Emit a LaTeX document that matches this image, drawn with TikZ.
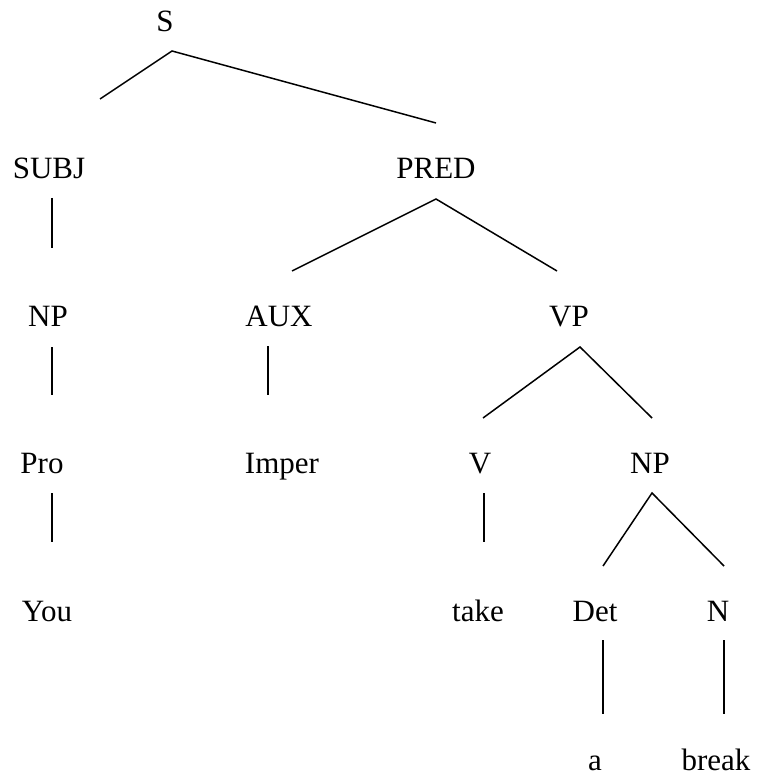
\documentclass[tikz,border=0pt]{standalone}
\usepackage{fontspec}
\setmainfont{Liberation Serif}
\usepackage{tikz}

\begin{document}
\begin{tikzpicture}[x=0.5pt, y=-0.5pt, line width=0.75pt,
    every node/.style={font=\fontsize{15.5}{18}\selectfont, anchor=base, inner sep=0pt}]
        \useasboundingbox (0,0) rectangle (757,774);

        % Sentence
        \node (S) at (165,32) {S};
        \node (SUBJ) at (49,179) {SUBJ};
        \node (PRED) at (436,179) {PRED};

        % Phrases
        \node (NPa) at (48,327) {NP};
        \node (AUX) at (279,327) {AUX};
        \node (VP) at (569,327) {VP};

        % Categories
        \node (Pro) at (42,473) {Pro};
        \node (Imper) at (282,473) {Imper};
        \node (V) at (480,473) {V};
        \node (NPb) at (650,473) {NP};

        % Words
        \node (You) at (47,621) {You};
        \node (take) at (478,621) {take};
        \node (Det) at (595,621) {Det};
        \node (N) at (718,621) {N};
        \node (a) at (595,770) {a};
        \node (break) at (716,770) {break};

        % Branch ends
        \coordinate (S-dn) at (172,51);
        \coordinate (SUBJ-up) at (100,99);
        \coordinate (PRED-up) at (436,123);
        \coordinate (SUBJ-dn) at (52,198);
        \coordinate (NPa-up) at (52,248);
        \coordinate (NPa-dn) at (52,347);
        \coordinate (Pro-up) at (52,395);
        \coordinate (Pro-dn) at (52,493);
        \coordinate (You-up) at (52,542);
        \coordinate (PRED-dn) at (436,199);
        \coordinate (AUX-up) at (292,271);
        \coordinate (VP-up) at (557,271);
        \coordinate (AUX-dn) at (268,346);
        \coordinate (Imper-up) at (268,395);
        \coordinate (VP-dn) at (580,347);
        \coordinate (V-up) at (483,418);
        \coordinate (NPb-up) at (652,418);
        \coordinate (V-dn) at (484,493);
        \coordinate (take-up) at (484,542);
        \coordinate (NPb-dn) at (652,493);
        \coordinate (Det-up) at (603,566);
        \coordinate (N-up) at (724,566);
        \coordinate (Det-dn) at (603,640);
        \coordinate (a-up) at (603,714);
        \coordinate (N-dn) at (724,640);
        \coordinate (break-up) at (724,714);

        % Connections
        \draw (SUBJ-up) -- (S-dn) -- (PRED-up);
        \draw (SUBJ-dn) -- (NPa-up);
        \draw (NPa-dn) -- (Pro-up);
        \draw (Pro-dn) -- (You-up);
        \draw (AUX-up) -- (PRED-dn) -- (VP-up);
        \draw (AUX-dn) -- (Imper-up);
        \draw (V-up) -- (VP-dn) -- (NPb-up);
        \draw (V-dn) -- (take-up);
        \draw (Det-up) -- (NPb-dn) -- (N-up);
        \draw (Det-dn) -- (a-up);
        \draw (N-dn) -- (break-up);
    \end{tikzpicture}
\end{document}
